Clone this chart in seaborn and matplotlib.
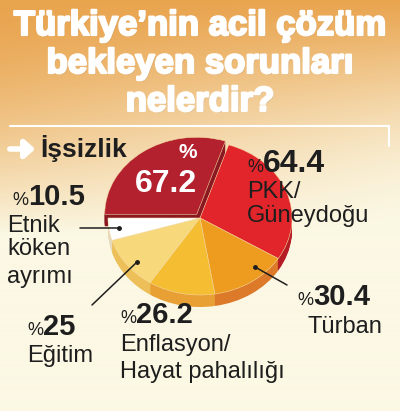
import numpy as np
import matplotlib
matplotlib.use("Agg")
import matplotlib.pyplot as plt
import matplotlib.patheffects as pe
import seaborn as sns

# data (multiple answers, so the total is > 100)
categories = ["İşsizlik", "PKK/Güneydoğu", "Türban",
              "Enflasyon/Hayat pahalılığı", "Eğitim", "Etnik köken ayrımı"]
values = [67.2, 64.4, 30.4, 26.2, 25, 10.5]
title_lines = ["Türkiye’nin acil çözüm", "bekleyen sorunları", "nelerdir?"]

top_colors = ["#B3212E", "#E2252B", "#EE9C20", "#F5BD31", "#F7D97C", "#FFFFFF"]
side_colors = ["#8A1822", "#B51D24", "#DC7A2A", "#E8A034", "#EDBF58", "#E6D9BC"]
explode = [0.06, 0, 0, 0, 0, 0]

sns.set_theme(style="white")
plt.rcParams["font.family"] = ["Liberation Sans", "DejaVu Sans"]

W, H = 400, 411
fig = plt.figure(figsize=(W / 100, H / 100), dpi=100)

# background: orange at the top fading into cream
ax_bg = fig.add_axes([0, 0, 1, 1], zorder=0)
yy, xx = np.mgrid[0:H, 0:W]
w = np.clip(1 - (yy / 235.0) ** 1.5, 0, 1) * np.clip(1 - 0.55 * (xx / W) * (yy / 130.0), 0, 1)
w = w[..., None]
orange = np.array([233, 164, 78]) / 255
cream = np.array([251, 248, 228]) / 255
img = w * orange + (1 - w) * cream
ax_bg.imshow(img, extent=(0, W, H, 0), aspect="auto")
ax_bg.set_xlim(0, W)
ax_bg.set_ylim(H, 0)
ax_bg.axis("off")

# pie, squashed into an ellipse with a thick side
cx, cy, rx, ry, thick = 200, 218, 92, 77, 12
ax_pie = fig.add_axes([0, 0, 1, 1], zorder=1)
ax_pie.patch.set_alpha(0)
for t in np.linspace(thick, 1, 12):
    ax_pie.pie(values, colors=side_colors, startangle=180, counterclock=False,
               explode=explode, center=(0, -t / ry),
               wedgeprops=dict(linewidth=0))
ax_pie.pie(values, colors=top_colors, startangle=180, counterclock=False,
           explode=explode, wedgeprops=dict(linewidth=0.4, edgecolor="#F3D9A0"))
ax_pie.set_aspect("auto")
ax_pie.set_xlim(-cx / rx, (W - cx) / rx)
ax_pie.set_ylim((cy - H) / ry, cy / ry)
ax_pie.axis("off")

# texts and leader lines in pixel coords
ax = fig.add_axes([0, 0, 1, 1], zorder=2)
ax.patch.set_alpha(0)
ax.set_xlim(0, W)
ax.set_ylim(H, 0)
ax.axis("off")

heavy = [pe.withStroke(linewidth=1.6, foreground="white"),
         pe.withSimplePatchShadow(offset=(0.8, -0.8), alpha=0.25)]
for line, yb in zip(title_lines, [35, 73, 111]):
    ax.text(200, yb, line, ha="center", va="baseline", color="white",
            fontsize=25, fontweight="bold", path_effects=heavy[::-1])

ax.plot([10, 389], [126, 126], color="white", lw=1.5)
ax.plot([389, 389], [126, 146], color="white", lw=1.5)
ax.annotate("", xy=(38, 149), xytext=(7, 149),
            arrowprops=dict(arrowstyle="-|>,head_width=0.45,head_length=0.5",
                            color="white", lw=4))

dark = "#1E1E1E"
ax.text(40, 157, categories[0], ha="left", va="baseline", fontsize=19,
        fontweight="bold", color=dark)
ax.text(188, 158, "%", ha="center", va="baseline", fontsize=15, color="white",
        fontweight="bold")
ax.text(166, 192, f"{values[0]:g}", ha="center", va="baseline", fontsize=23,
        color="white", fontweight="bold")


def pct(x, y, v, size=21):
    ax.text(x, y, "%", ha="left", va="baseline", fontsize=13, color=dark)
    ax.text(x + 16, y, f"{v:g}", ha="left", va="baseline", fontsize=size,
            fontweight="bold", color=dark)


def label(x, y, s):
    ax.text(x, y, s, ha="left", va="baseline", fontsize=17, color=dark)


pct(247, 172, values[1], 23)
label(247, 198, "PKK/")
label(247, 222, "Güneydoğu")

pct(297, 305, values[2])
label(308, 333, categories[2])

pct(120, 323, values[3])
label(120, 351, "Enflasyon/")
label(120, 378, "Hayat pahalılığı")

pct(27, 335, values[4])
label(27, 362, categories[4])

pct(12, 205, values[5])
label(7, 232, "Etnik")
label(7, 255, "köken")
label(7, 283, "ayrımı")

leaders = [((80, 228), (119, 228)), ((92, 305), (137, 262)), ((287, 285), (255, 267))]
for (x0, y0), (x1, y1) in leaders:
    ax.plot([x0, x1], [y0, y1], color=dark, lw=1.1)
    ax.plot(x1, y1, "o", color=dark, ms=2.5)

fig.savefig("out.png", dpi=100)
